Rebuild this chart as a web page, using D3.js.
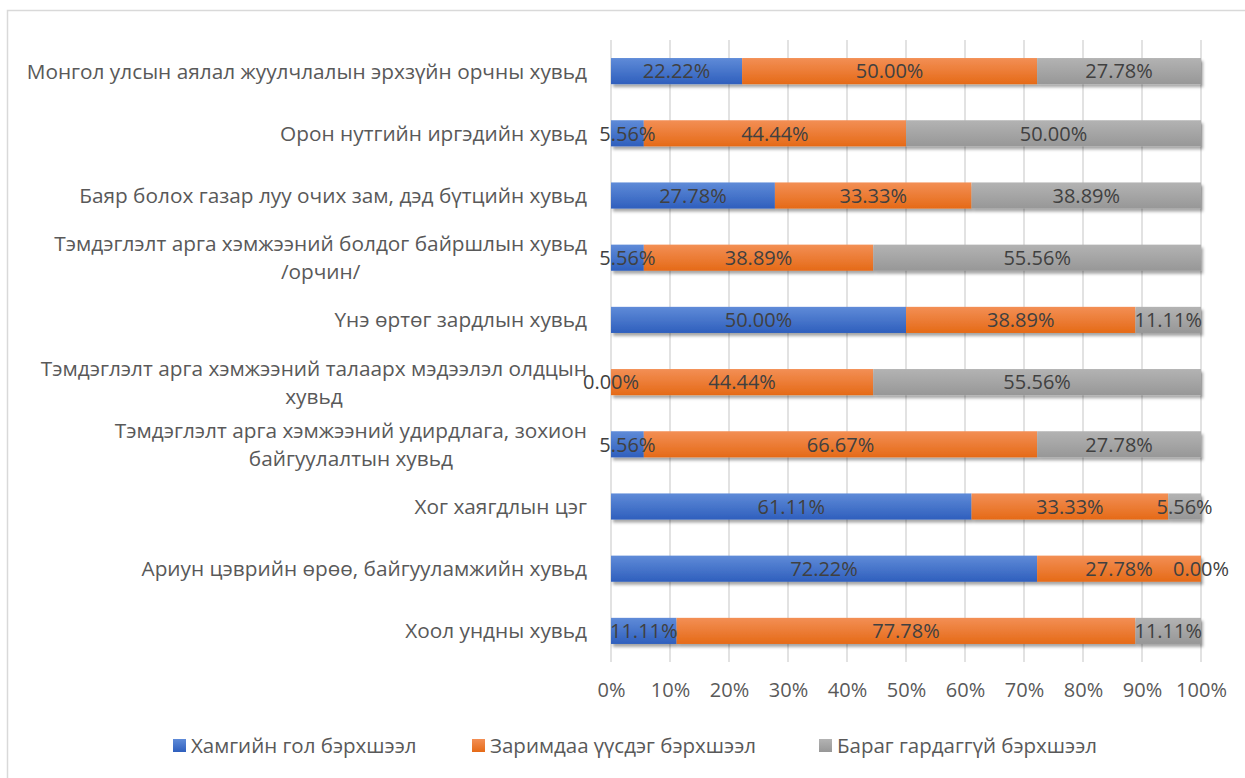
<!DOCTYPE html>
<html>
<head>
<meta charset="utf-8">
<script src="https://cdn.jsdelivr.net/npm/d3@7/dist/d3.min.js"></script>
<style>
  html, body { margin: 0; padding: 0; background: #fff; }
  svg { display: block; }
  text { font-family: "Open Sans", "Liberation Sans", Arial, sans-serif; }
</style>
</head>
<body>
<svg id="chart" width="1245" height="778"></svg>
<script>
const categories = [
  "Монгол улсын аялал жуулчлалын эрхзүйн орчны хувьд",
  "Орон нутгийн иргэдийн хувьд",
  "Баяр болох газар луу очих зам, дэд бүтцийн хувьд",
  "Тэмдэглэлт арга хэмжээний болдог байршлын хувьд\n/орчин/",
  "Үнэ өртөг зардлын хувьд",
  "Тэмдэглэлт арга хэмжээний талаарх мэдээлэл олдцын\nхувьд",
  "Тэмдэглэлт арга хэмжээний удирдлага, зохион\nбайгуулалтын хувьд",
  "Хог хаягдлын цэг",
  "Ариун цэврийн өрөө, байгууламжийн хувьд",
  "Хоол ундны хувьд"
];
const seriesNames = ["Хамгийн гол бэрхшээл", "Заримдаа үүсдэг бэрхшээл", "Бараг гардаггүй бэрхшээл"];
const mainValues      = [22.22, 5.56, 27.78, 5.56, 50.00, 0.00, 5.56, 61.11, 72.22, 11.11];
const sometimesValues = [50.00, 44.44, 33.33, 38.89, 38.89, 44.44, 66.67, 33.33, 27.78, 77.78];
const rarelyValues    = [27.78, 50.00, 38.89, 55.56, 11.11, 55.56, 27.78, 5.56, 0.00, 11.11];
const tickValues = [0, 10, 20, 30, 40, 50, 60, 70, 80, 90, 100];

const seriesValues = [mainValues, sometimesValues, rarelyValues];
const colors = [
  {top: "#5f8bd8", bottom: "#2f5fbd"},
  {top: "#f38f55", bottom: "#e56a17"},
  {top: "#b3b3b3", bottom: "#979797"}
];

const svg = d3.select("#chart");
const FONT = 20;
const CAT_FONT = 20.8;
const LEG_FONT = 20.5;
const FAMILY = "Open Sans, Liberation Sans, Arial, sans-serif";

// chart border
svg.append("rect").attr("x", 7.5).attr("y", 10.5).attr("width", 1260).attr("height", 800)
  .attr("fill", "#fff").attr("stroke", "#d9d9d9").attr("stroke-width", 1.5);

const defs = svg.append("defs");
colors.forEach((c, i) => {
  const g = defs.append("linearGradient").attr("id", "grad" + i)
    .attr("x1", 0).attr("y1", 0).attr("x2", 0).attr("y2", 1);
  g.append("stop").attr("offset", "0%").attr("stop-color", c.top);
  g.append("stop").attr("offset", "100%").attr("stop-color", c.bottom);
});
const f = defs.append("filter").attr("id", "shadow")
  .attr("x", "-5%").attr("y", "-30%").attr("width", "110%").attr("height", "170%");
f.append("feDropShadow").attr("dx", 2).attr("dy", 3).attr("stdDeviation", 1.8)
  .attr("flood-color", "#000").attr("flood-opacity", 0.35);

const x = d3.scaleLinear().domain([0, 100]).range([611, 1201]);
const y = d3.scaleBand().domain(categories).range([40, 662]).padding(0);
const barH = y.bandwidth() * 0.42;

// gridlines
svg.append("g").selectAll("line").data(tickValues).join("line")
  .attr("x1", d => x(d)).attr("x2", d => x(d))
  .attr("y1", 40).attr("y2", 662)
  .attr("stroke", "#d9d9d9").attr("stroke-width", 1.5);

// x tick labels via axis
const xAxis = d3.axisBottom(x).tickValues(tickValues).tickFormat(d => d + "%").tickSize(0).tickPadding(0);
const ax = svg.append("g").attr("transform", "translate(0,683)").call(xAxis);
ax.select(".domain").remove();
ax.selectAll("text").attr("font-size", FONT).attr("fill", "#595959")
  .attr("font-family", FAMILY);

// stacked data
const rows = categories.map((c, i) => ({cat: c, v: seriesValues.map(s => s[i])}));
const segs = [];
rows.forEach(r => {
  let acc = 0;
  r.v.forEach((v, si) => {
    segs.push({cat: r.cat, si, x0: acc, x1: acc + v, v});
    acc += v;
  });
});

const barG = svg.append("g");
barG.selectAll("g.row").data(rows).join("g").attr("filter", "url(#shadow)")
  .each(function(r) {
    d3.select(this).selectAll("rect").data(segs.filter(s => s.cat === r.cat)).join("rect")
      .attr("x", d => x(d.x0))
      .attr("width", d => Math.max(0, x(d.x1) - x(d.x0)))
      .attr("y", d => y(d.cat) + (y.bandwidth() - barH) / 2)
      .attr("height", barH)
      .attr("fill", d => "url(#grad" + d.si + ")");
  });

// data labels
svg.append("g").selectAll("text").data(segs).join("text")
  .attr("x", d => x((d.x0 + d.x1) / 2))
  .attr("y", d => y(d.cat) + y.bandwidth() / 2)
  .attr("dy", "0.36em")
  .attr("text-anchor", "middle")
  .attr("font-size", FONT).attr("fill", "#404040")
  .text(d => d.v.toFixed(2) + "%");

// category labels
const catG = svg.append("g");
categories.forEach(c => {
  const lines = c.split("\n");
  const cy = y(c) + y.bandwidth() / 2;
  const t = catG.append("text").attr("font-size", CAT_FONT).attr("fill", "#595959")
    .attr("text-anchor", "middle");
  const lh = 28;
  const spans = lines.map((ln, i) => t.append("tspan").attr("x", 0)
    .attr("y", cy + (i - (lines.length - 1) / 2) * lh).attr("dy", "0.36em").text(ln));
  const w = d3.max(spans, s => s.node().getComputedTextLength());
  spans.forEach(s => s.attr("x", 587 - w / 2));
});

// legend
const legendX = [173, 472, 819];
const lg = svg.append("g");
seriesNames.forEach((n, i) => {
  lg.append("rect").attr("x", legendX[i]).attr("y", 739).attr("width", 13).attr("height", 13)
    .attr("fill", "url(#grad" + i + ")");
  lg.append("text").attr("x", legendX[i] + 18).attr("y", 745.5).attr("dy", "0.36em")
    .attr("font-size", LEG_FONT).attr("fill", "#595959").text(n);
});
</script>
</body>
</html>
